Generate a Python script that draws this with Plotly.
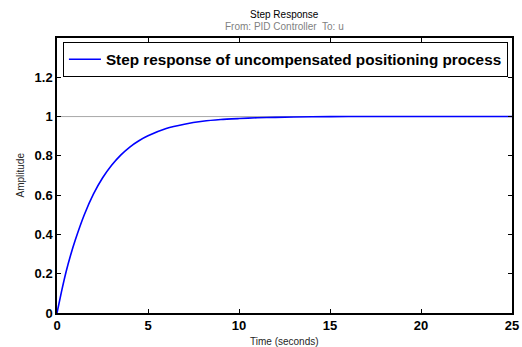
import plotly.graph_objects as go

# Step response samples
time_s = [0, 0.25, 0.5, 0.75, 1.0, 1.5, 2.0, 2.5, 3.0, 3.5, 4.0, 4.5, 5.0, 6.0, 7.0,
          8.0, 9.0, 10.0, 11.0, 12.0, 14.0, 16.0, 20.0, 25.0]
amplitude = [0, 0.11, 0.21, 0.295, 0.37, 0.50, 0.605, 0.687, 0.752, 0.804, 0.845,
             0.877, 0.902, 0.939, 0.961, 0.976, 0.985, 0.990, 0.994, 0.996, 0.999,
             1.0, 1.0, 1.0]
steady_state = 1.0
x_ticks = [0, 5, 10, 15, 20, 25]
y_ticks = [0, 0.2, 0.4, 0.6, 0.8, 1, 1.2]
y_tick_text = ["0", "0.2", "0.4", "0.6", "0.8", "1", "1.2"]
series_name = "Step response of uncompensated positioning process"

FONT = "Liberation Sans, Arial"

fig = go.Figure()
fig.add_hline(y=steady_state, line=dict(color="#a8a8a8", width=1), layer="below")
fig.add_trace(go.Scatter(x=time_s, y=amplitude, mode="lines", name=series_name,
                         line=dict(color="#0000ff", width=1.6, shape="spline", smoothing=0.6)))

axis_common = dict(showline=True, linecolor="black", linewidth=1.5, mirror="ticks",
                   ticks="inside", ticklen=4, tickcolor="black", tickwidth=1,
                   showgrid=False, zeroline=False, automargin=False,
                   tickfont=dict(family=FONT, size=13, color="black", weight="bold"))

fig.update_xaxes(range=[0, 25], tickvals=x_ticks, **axis_common)
fig.update_yaxes(range=[0, 1.4], tickvals=y_ticks, ticktext=y_tick_text, **axis_common)

fig.add_annotation(text="Step Response", xref="paper", yref="paper", x=0.5, y=1,
                   yshift=24, showarrow=False, yanchor="middle",
                   font=dict(family=FONT, size=10, color="black"))
fig.add_annotation(text="From: PID Controller  To: u", xref="paper", yref="paper", x=0.5, y=1,
                   yshift=12, showarrow=False, yanchor="middle",
                   font=dict(family=FONT, size=10, color="#7f7f7f"))
fig.add_annotation(text="Time (seconds)", xref="paper", yref="paper", x=0.5, y=0,
                   yshift=-28, showarrow=False, yanchor="middle",
                   font=dict(family=FONT, size=10, color="#262626"))
fig.add_annotation(text="Amplitude", xref="paper", yref="paper", x=0, y=0.5,
                   xshift=-37, showarrow=False, xanchor="center", yanchor="middle",
                   textangle=-90,
                   font=dict(family=FONT, size=10, color="#262626"))

fig.update_layout(
    width=522, height=347,
    margin=dict(l=57, r=10, t=38, b=34),
    paper_bgcolor="white", plot_bgcolor="white",
    showlegend=True,
    legend=dict(x=0.013, y=0.986, xanchor="left", yanchor="top",
                bgcolor="white", bordercolor="black", borderwidth=1,
                font=dict(family=FONT, size=15.3, color="black", weight="bold"),
                itemwidth=32),
)

fig.write_html("out.html", config={"displayModeBar": False},
               post_script="document.body.style.margin='0px';")
